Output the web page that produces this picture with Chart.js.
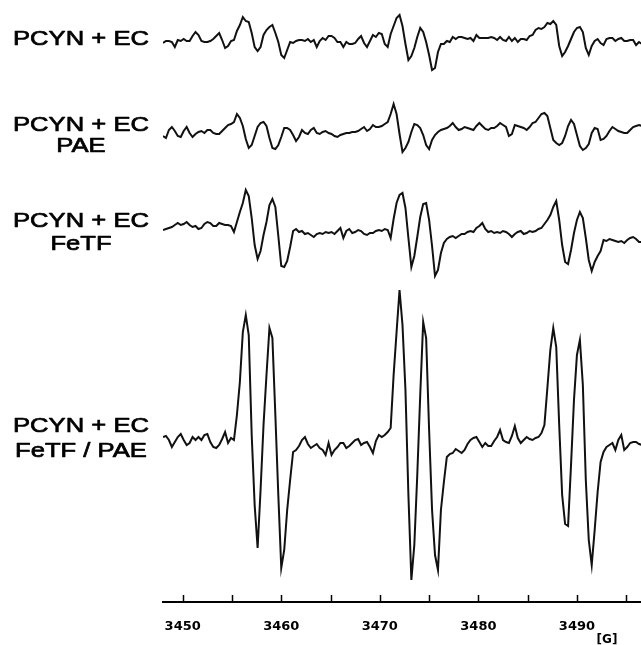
<!DOCTYPE html>
<html><head><meta charset="utf-8">
<script src="https://cdn.jsdelivr.net/npm/chart.js@4"></script>
<style>html,body{margin:0;padding:0;background:#fff;} canvas{display:block;}</style>
</head><body>
<canvas id="c" width="641" height="645"></canvas>
<script>
// Magnetic field sampling (G)
const fieldG = [
3448.0,3448.3,3448.6,3448.9,3449.2,3449.5,3449.8,3450.1,3450.4,3450.7,
3451.0,3451.3,3451.6,3451.9,3452.2,3452.5,3452.8,3453.1,3453.4,3453.7,
3454.0,3454.3,3454.6,3454.9,3455.2,3455.5,3455.8,3456.1,3456.4,3456.7,
3457.0,3457.3,3457.6,3457.9,3458.2,3458.5,3458.8,3459.1,3459.4,3459.7,
3460.0,3460.3,3460.6,3460.9,3461.2,3461.5,3461.8,3462.1,3462.4,3462.7,
3463.0,3463.3,3463.6,3463.9,3464.2,3464.5,3464.8,3465.1,3465.4,3465.7,
3466.0,3466.3,3466.6,3466.9,3467.2,3467.5,3467.8,3468.1,3468.4,3468.7,
3469.0,3469.3,3469.6,3469.9,3470.2,3470.5,3470.8,3471.1,3471.4,3471.7,
3472.0,3472.3,3472.6,3472.9,3473.2,3473.5,3473.8,3474.1,3474.4,3474.7,
3475.0,3475.3,3475.6,3475.9,3476.2,3476.5,3476.8,3477.1,3477.4,3477.7,
3478.0,3478.3,3478.6,3478.9,3479.2,3479.5,3479.8,3480.1,3480.4,3480.7,
3481.0,3481.3,3481.6,3481.9,3482.2,3482.5,3482.8,3483.1,3483.4,3483.7,
3484.0,3484.3,3484.6,3484.9,3485.2,3485.5,3485.8,3486.1,3486.4,3486.7,
3487.0,3487.3,3487.6,3487.9,3488.2,3488.5,3488.8,3489.1,3489.4,3489.7,
3490.0,3490.3,3490.6,3490.9,3491.2,3491.5,3491.8,3492.1,3492.4,3492.7,
3493.0,3493.3,3493.6,3493.9,3494.2,3494.5,3494.8,3495.1,3495.4,3495.7,
3496.0,3496.3,3496.6
];

// Axis ticks (G); labels shown every 10 G
const fieldTicks = [3450,3455,3460,3465,3470,3475,3480,3485,3490,3495];
const tickLabelEvery = 10;
const unitLabel = "[G]";

// Sample names (one entry per line of text)
const traceLabels = [
  ["PCYN + EC"],
  ["PCYN + EC", "PAE"],
  ["PCYN + EC", "FeTF"],
  ["PCYN + EC", "FeTF / PAE"]
];

// EPR signal amplitudes (arbitrary units)
const ampPCYN = [
-2,0,0,-1,-6,1,0,2,0,0,
5,9,6,0,-1,-1,0,2,5,8,
1,-7,-5,0,1,10,16,24,20,19,
8,-6,-10,-6,6,11,14,16,8,-1,
-14,-17,-9,-1,-2,0,1,1,0,2,
-1,1,-6,0,3,1,5,5,3,-1,
-1,-6,-1,-3,-3,-2,2,5,-2,-6,
0,6,4,8,7,-3,-6,7,15,23,
26,15,-3,-19,-15,-7,4,13,9,-1,
-14,-29,-27,-11,-3,-3,0,-1,4,2,
4,4,3,2,3,0,6,3,3,3,
3,4,3,1,4,1,0,4,0,3,
-1,2,2,1,5,6,11,13,12,14,
18,17,20,16,-5,-15,-11,-5,2,9,
13,14,9,-7,-14,-5,0,2,-2,-4,
2,3,3,0,2,3,0,0,1,1,
-4,-1,-3
];

const ampPAE = [
-5,-7,1,4,0,-5,-6,0,4,-2,
-6,-3,-1,0,-2,1,1,-2,-3,-3,
0,3,6,7,9,17,13,5,-8,-17,
-14,-5,4,8,9,5,-7,-17,-18,-14,
-6,3,3,1,-4,-10,-6,1,-2,-3,
1,3,-2,-3,-1,0,-2,-3,-5,-6,
-4,-3,-2,-2,-1,-1,0,2,4,0,
2,6,4,4,5,7,9,17,27,17,
-3,-21,-17,-11,-1,7,6,3,-4,-14,
-18,-9,-4,-1,1,2,3,5,8,4,
1,2,4,3,2,1,5,8,5,2,
1,3,3,5,8,6,4,-5,-3,6,
5,4,3,1,4,8,9,13,17,18,
15,3,-9,-12,-14,-12,-5,5,11,7,
-4,-15,-19,-17,-13,-2,3,2,-9,-8,
-5,0,4,2,0,-1,-2,-2,1,4,
5,6,5
];

const ampFeTF = [
2,3,4,5,7,9,7,8,10,7,
5,6,3,4,8,10,9,6,6,9,
8,7,7,6,0,10,20,29,42,36,
14,-13,-27,-19,-3,10,27,33,25,-4,
-34,-35,-29,-15,1,3,0,1,-2,-1,
-3,-5,-2,-1,-2,0,-1,0,-2,1,
4,-6,1,3,-1,0,2,1,-2,-3,
-1,-1,1,2,1,3,2,-6,13,29,
37,39,24,-6,-35,-24,-5,15,28,29,
12,-14,-44,-38,-21,-11,-7,-5,-4,-6,
-4,-2,-2,0,1,0,4,6,9,3,
0,1,-1,0,-1,1,0,-2,-5,-2,
0,1,-2,-1,1,0,1,3,4,8,
12,17,25,31,12,-13,-30,-32,-18,-1,
12,20,14,-6,-28,-39,-30,-24,-19,-8,
-9,-7,-8,-9,-10,-9,-11,-8,-6,-5,
-7,-10,-10
];

const ampFeTFPAE = [
5,6,2,-5,0,5,8,2,-3,-1,
5,2,5,2,7,8,0,-5,-6,-3,
3,10,-1,4,2,27,60,110,127,107,
7,-63,-106,-48,17,67,114,104,27,-53,
-126,-108,-68,-38,-10,-8,-4,2,5,-2,
-6,-4,-2,-6,-8,-13,-1,-13,-8,-5,
-1,-1,-6,-4,-1,2,3,-3,-1,0,
-5,-11,1,7,5,7,10,14,67,110,
152,117,52,-53,-138,-103,-33,47,120,104,
12,-68,-113,-128,-68,-40,-15,-12,-11,-7,
-9,-11,-8,-2,2,4,5,0,-5,-1,
-4,-4,1,5,12,2,0,-1,6,16,
4,-1,2,5,3,2,4,5,9,17,
54,92,114,95,17,-53,-82,-84,-23,42,
87,102,57,-38,-98,-123,-88,-50,-20,-10,
-5,-3,-1,-8,2,7,-8,-5,-1,0,
0,-2,-3
];

// ---- layout / styling ----
const traces = [ampPCYN, ampPAE, ampFeTF, ampFeTFPAE];
const stackOffsets = [561, 471, 370, 160];          // vertical stacking of the spectra
const labelLineY = [[45], [131, 152], [227, 250], [432, 457]];
const labelCenterX = 81;

const datasets = traces.map((amp, i) => ({
  label: traceLabels[i].join(' '),
  data: fieldG.map((g, j) => ({ x: g, y: stackOffsets[i] + amp[j] })),
  borderColor: '#111',
  borderWidth: 2,
  pointRadius: 0,
  tension: 0,
  fill: false
}));

const decor = {
  id: 'decor',
  afterDraw(chart) {
    const ctx = chart.ctx, xs = chart.scales.x, yb = chart.chartArea.bottom;
    ctx.save();
    ctx.strokeStyle = '#000';
    ctx.lineWidth = 1.5;
    xs.ticks.forEach(t => {
      const px = Math.round(xs.getPixelForValue(t.value)) + 0.5;
      ctx.beginPath(); ctx.moveTo(px, yb); ctx.lineTo(px, yb - 7); ctx.stroke();
    });
    ctx.fillStyle = '#000';
    ctx.textAlign = 'center';
    ctx.textBaseline = 'alphabetic';
    ctx.font = '21px "Liberation Sans", Arial, sans-serif';
    ctx.lineWidth = 0.7;
    ctx.lineJoin = 'round';
    traceLabels.forEach((lines, i) => lines.forEach((s, j) => {
      ctx.save();
      ctx.translate(labelCenterX, labelLineY[i][j]);
      ctx.scale(1.22, 1);
      ctx.fillText(s, 0, 0);
      ctx.strokeText(s, 0, 0);
      ctx.restore();
    }));
    ctx.font = 'bold 12px "DejaVu Sans", sans-serif';
    ctx.fillText(unitLabel, 607, 643);
    ctx.restore();
  }
};

new Chart(document.getElementById('c'), {
  type: 'line',
  data: { datasets },
  options: {
    responsive: false,
    animation: false,
    devicePixelRatio: 1,
    layout: { padding: { left: 163, right: 0, top: 0, bottom: 0 } },
    plugins: { legend: { display: false }, tooltip: { enabled: false } },
    scales: {
      x: {
        type: 'linear', min: 3448, max: 3496.5, position: 'bottom',
        grid: { display: false, drawTicks: false },
        border: { display: true, color: '#000', width: 2 },
        afterBuildTicks: s => { s.ticks = fieldTicks.map(v => ({ value: v })); },
        afterFit: s => { s.height = 43; s.paddingLeft = 0; s.paddingRight = 0; },
        ticks: {
          autoSkip: false, maxRotation: 0, padding: 17, color: '#000',
          font: { family: '"DejaVu Sans", sans-serif', size: 13, weight: 'bold' },
          callback: v => (v % tickLabelEvery === 0 ? String(v) : '')
        }
      },
      y: { display: false, min: 0, max: 602 }
    }
  },
  plugins: [decor]
});
</script>
</body></html>
